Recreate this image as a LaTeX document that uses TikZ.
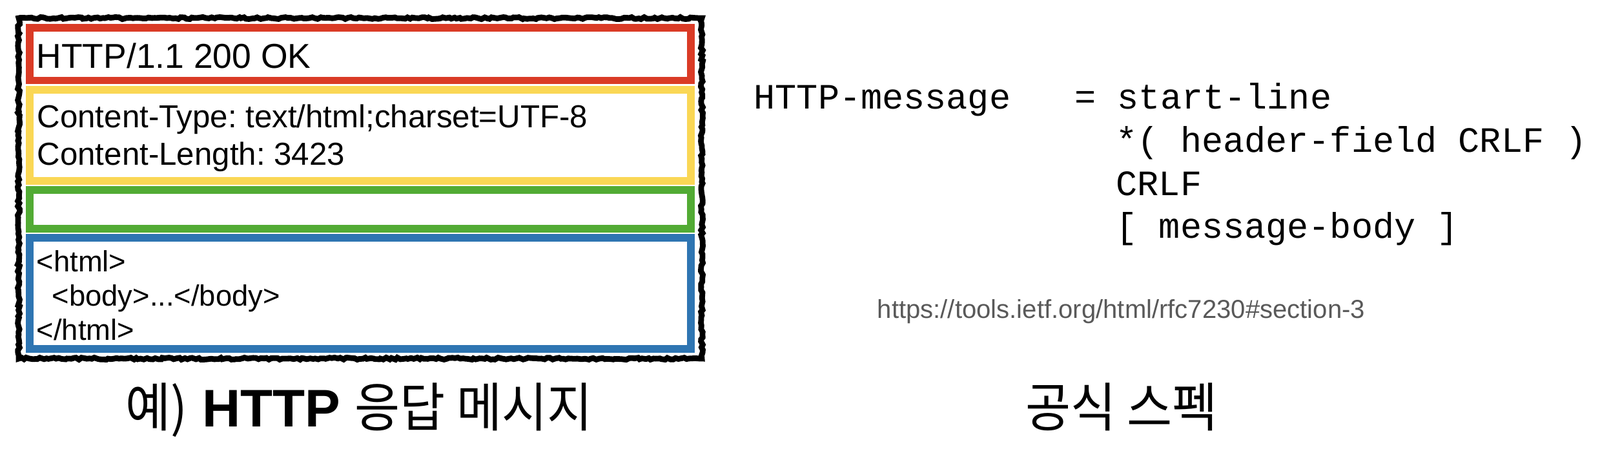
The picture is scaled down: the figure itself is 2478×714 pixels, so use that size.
\documentclass[tikz,border=0pt]{standalone}
\usepackage{fontspec}
\setmainfont{Liberation Sans}
\newfontfamily\monofont{Liberation Mono}
\newfontfamily\kofont[FakeStretch=0.93]{Noto Sans CJK KR}
\usetikzlibrary{decorations.pathmorphing}
\frenchspacing

\definecolor{partred}{RGB}{218,59,38}
\definecolor{partyellow}{RGB}{250,215,85}
\definecolor{partgreen}{RGB}{82,171,52}
\definecolor{partblue}{RGB}{46,117,178}
\definecolor{urlgray}{RGB}{89,89,89}

\tikzset{
	part/.style={line width=3.4pt},
	txt/.style={anchor=base west, inner sep=0pt},
	caption/.style={anchor=base, inner sep=0pt, font=\fontsize{23.3}{28}\selectfont},
}

\begin{document}
\begin{tikzpicture}[x=0.01cm, y=-0.01cm]
		\useasboundingbox (0,0) rectangle (2478,714);
		% Rough frame
		\draw[line width=2.5pt, decorate, decoration={random steps, segment length=1.2pt, amplitude=0.45pt}] (29,28) rectangle (1087,555);
		% Parts of the message
		\draw[part, partred] (46,43) rectangle (1070,124.5);
		\draw[part, partyellow] (46,139) rectangle (1070,280);
		\draw[part, partgreen] (46,294) rectangle (1070,354);
		\draw[part, partblue] (46,368) rectangle (1070,540);
		% Example response
		\node[txt, font=\fontsize{15.2}{18}\selectfont] (status) at (56,105) {HTTP/1.1 200 OK};
		\node[txt, font=\fontsize{14}{16}\selectfont] (ctype) at (57,197) {Content-Type: text/html;charset=UTF-8};
		\node[txt, font=\fontsize{14}{16}\selectfont] (clength) at (57,255) {Content-Length: 3423};
		\node[txt, font=\fontsize{12.9}{15}\selectfont] (htmlopen) at (56,420) {<html>};
		\node[txt, font=\fontsize{12.9}{15}\selectfont] (bodytag) at (80,473) {<body>...</body>};
		\node[txt, font=\fontsize{12.9}{15}\selectfont] (htmlclose) at (56,526) {</html>};
		% Grammar
		\node[txt, font=\monofont\fontsize{15.7}{18}\selectfont] (startline) at (1167,168) {HTTP-message\ \ \ = start-line};
		\node[txt, font=\monofont\fontsize{15.7}{18}\selectfont] (headers) at (1728,235) {*( header-field CRLF )};
		\node[txt, font=\monofont\fontsize{15.7}{18}\selectfont] (crlf) at (1728,302) {CRLF};
		\node[txt, font=\monofont\fontsize{15.7}{18}\selectfont] (msgbody) at (1728,368) {[ message-body ]};
		\node[txt, urlgray, font=\fontsize{11.4}{14}\selectfont] (url) at (1358,492) {https://tools.ietf.org/html/rfc7230\#section-3};
		% Captions
		\node[caption] (leftcap) at (556,660) {{\kofont 예)} \textbf{HTTP} {\kofont 응답 메시지}};
		\node[caption] (rightcap) at (1737,660) {\kofont 공식 스펙};
\end{tikzpicture}
\end{document}
